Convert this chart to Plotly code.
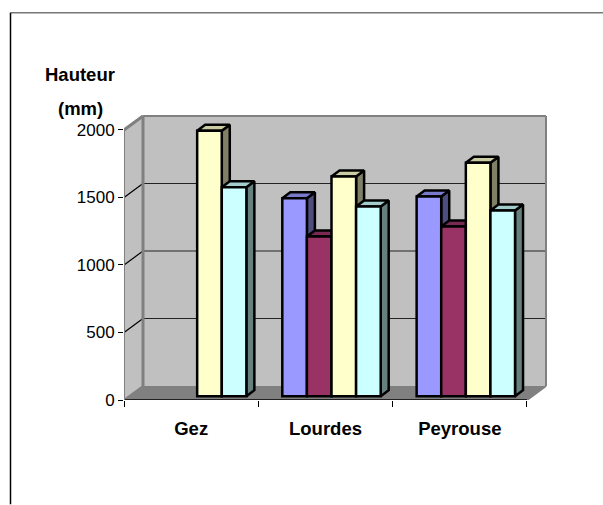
import plotly.graph_objects as go

categories = ["Gez", "Lourdes", "Peyrouse"]
series_1 = [None, 1467, 1479]
series_2 = [None, 1183, 1257]
series_3 = [1967, 1627, 1730]
series_4 = [1548, 1405, 1375]
y_ticks = [0, 500, 1000, 1500, 2000]

all_series = [series_1, series_2, series_3, series_4]
front = ["#9999FF", "#993366", "#FFFFCC", "#CCFFFF"]
side = ["#4D4D80", "#4D1A33", "#808066", "#668080"]
top = ["#7A7ACC", "#7A2952", "#CCCCA3", "#A3CCCC"]

W, H = 603, 505
L, R, T, B = 124, 53, 113, 104.5
PX_X = 134.33        # px per category
PX_Y = 0.13525       # px per value unit
xmin, xmax = -0.5, -0.5 + (W - R - L) / PX_X
ymin, ymax = 0, (H - B - T) / PX_Y
WALL_X, WALL_Y = 19 / PX_X, 14 / PX_Y
DEPTH_X, DEPTH_Y = 8 / PX_X, 6 / PX_Y
BAR_W = 24.6 / PX_X
SHIFT = 6.0 / PX_X
BASE = 28
FONT = "Liberation Sans"


def px(x, y):
    return dict(x=(x - L) / (W - L - R), y=1 - (y - T) / (H - T - B))


fig = go.Figure()


def poly(xs, ys, color):
    path = "M" + " L".join(f"{a},{b}" for a, b in zip(xs, ys)) + " Z"
    fig.add_shape(type="path", path=path, xref="x", yref="y", fillcolor=color,
                  line=dict(width=0), layer="below")


def seg(x0, y0, x1, y1, color, width):
    fig.add_shape(type="line", x0=x0, y0=y0, x1=x1, y1=y1, xref="x", yref="y",
                  line=dict(color=color, width=width), layer="below")


# walls and floor
poly([-0.5, -0.5 + WALL_X, -0.5 + WALL_X, -0.5], [0, WALL_Y, 2000 + WALL_Y, 2000], "#C0C0C0")
poly([-0.5 + WALL_X, 2.5 + WALL_X, 2.5 + WALL_X, -0.5 + WALL_X],
     [WALL_Y, WALL_Y, 2000 + WALL_Y, 2000 + WALL_Y], "#C0C0C0")
poly([-0.5, 2.5, 2.5 + WALL_X, -0.5 + WALL_X], [0, 0, WALL_Y, WALL_Y], "#808080")
for v in y_ticks[1:-1]:
    seg(-0.5 + WALL_X, v + WALL_Y, 2.5 + WALL_X, v + WALL_Y, "#222222", 1.2)
    seg(-0.5, v, -0.5 + WALL_X, v + WALL_Y, "#000000", 1.2)
seg(-0.5 + WALL_X, WALL_Y, -0.5 + WALL_X, 2000 + WALL_Y, "#808080", 3)
seg(-0.5 + WALL_X, 2000 + WALL_Y, 2.5 + WALL_X, 2000 + WALL_Y, "#808080", 2)
seg(2.5 + WALL_X, WALL_Y, 2.5 + WALL_X, 2000 + WALL_Y, "#808080", 2)
seg(-0.5, 2000, -0.5 + WALL_X, 2000 + WALL_Y, "#808080", 3)
seg(-0.5, 0, -0.5 + WALL_X, WALL_Y, "#808080", 2)
seg(2.5, 0, 2.5 + WALL_X, WALL_Y, "#808080", 2)

# 3D side and top faces of the bars, and the bars' fronts on an overlaid subplot
outline = dict(color="#000000", width=2.5)
for s, values in enumerate(all_series):
    centers = [i + SHIFT + (s - 1.5) * BAR_W for i in range(len(categories))]
    for c, v in zip(centers, values):
        if v is None:
            continue
        x0, x1 = c - BAR_W / 2, c + BAR_W / 2
        t = BASE + v
        fig.add_trace(go.Scatter(
            x=[x1, x1 + DEPTH_X, x1 + DEPTH_X, x1, x1],
            y=[BASE, BASE + DEPTH_Y, t + DEPTH_Y, t, BASE],
            mode="lines", fill="toself", fillcolor=side[s], line=outline,
            hoverinfo="skip", showlegend=False))
        fig.add_trace(go.Scatter(
            x=[x0, x1, x1 + DEPTH_X, x0 + DEPTH_X, x0],
            y=[t, t, t + DEPTH_Y, t + DEPTH_Y, t],
            mode="lines", fill="toself", fillcolor=top[s], line=outline,
            hoverinfo="skip", showlegend=False))

for s, values in enumerate(all_series):
    centers = [i + SHIFT + (s - 1.5) * BAR_W for i in range(len(categories))]
    fig.add_trace(go.Bar(x=centers, y=values, base=BASE, width=BAR_W, xaxis="x2", yaxis="y2",
                         marker=dict(color=front[s], line=outline), showlegend=False,
                         hoverinfo="skip"))

# front axis lines
fig.add_trace(go.Scatter(x=[-0.5, 2.5], y=[0, 0], mode="lines", cliponaxis=False,
                         line=dict(color="#000000", width=1.5), hoverinfo="skip", showlegend=False))
fig.add_trace(go.Scatter(x=[-0.5, -0.5], y=[0, 2000], mode="lines", cliponaxis=False,
                         line=dict(color="#808080", width=2), hoverinfo="skip", showlegend=False))

# frame of the page (paper coordinates)
a, b = px(10.5, 12.5), px(603, 12.5)
fig.add_shape(type="line", xref="paper", yref="paper", x0=a["x"], y0=a["y"], x1=b["x"], y1=b["y"],
              line=dict(color="#777777", width=1.5))
b = px(10.5, 505)
fig.add_shape(type="line", xref="paper", yref="paper", x0=a["x"], y0=a["y"], x1=b["x"], y1=b["y"],
              line=dict(color="#000000", width=1.5))

for text, xp, yp in [("Hauteur", 80, 74), ("(mm)", 80, 108)]:
    p = px(xp, yp)
    fig.add_annotation(text=f"<b>{text}</b>", xref="paper", yref="paper", x=p["x"], y=p["y"],
                       showarrow=False, xanchor="center", yanchor="middle",
                       font=dict(family=FONT, size=18.5, color="#000000"))

fig.update_layout(
    width=W, height=H, margin=dict(l=L, r=R, t=T, b=B, pad=0),
    paper_bgcolor="#FFFFFF", plot_bgcolor="rgba(0,0,0,0)", barmode="overlay", showlegend=False,
    font=dict(family=FONT, color="#000000"),
    xaxis=dict(range=[xmin, xmax], tickmode="array", tickvals=[0, 1, 2], ticktext=[f"<b>{c}</b>" for c in categories],
               ticks="", showgrid=False, zeroline=False, showline=False, ticklabelstandoff=15,
               tickfont=dict(family=FONT, size=18.5, color="#000000"),
               minor=dict(tickmode="array", tickvals=[-0.5, 0.5, 1.5, 2.5], ticks="outside", ticklen=6,
                          tickcolor="#000000", tickwidth=1, showgrid=False)),
    yaxis=dict(range=[ymin, ymax], tickmode="array", tickvals=y_ticks, ticks="outside", ticklen=5,
               tickcolor="#000000", tickwidth=1, showgrid=False, zeroline=False, showline=False,
               tickfont=dict(family=FONT, size=17, color="#000000")),
    xaxis2=dict(range=[xmin, xmax], overlaying="x", visible=False),
    yaxis2=dict(range=[ymin, ymax], overlaying="y", visible=False),
)

fig.write_html("out.html", config={"displayModeBar": False},
               post_script="document.body.style.margin='0';document.body.style.overflow='hidden';")
